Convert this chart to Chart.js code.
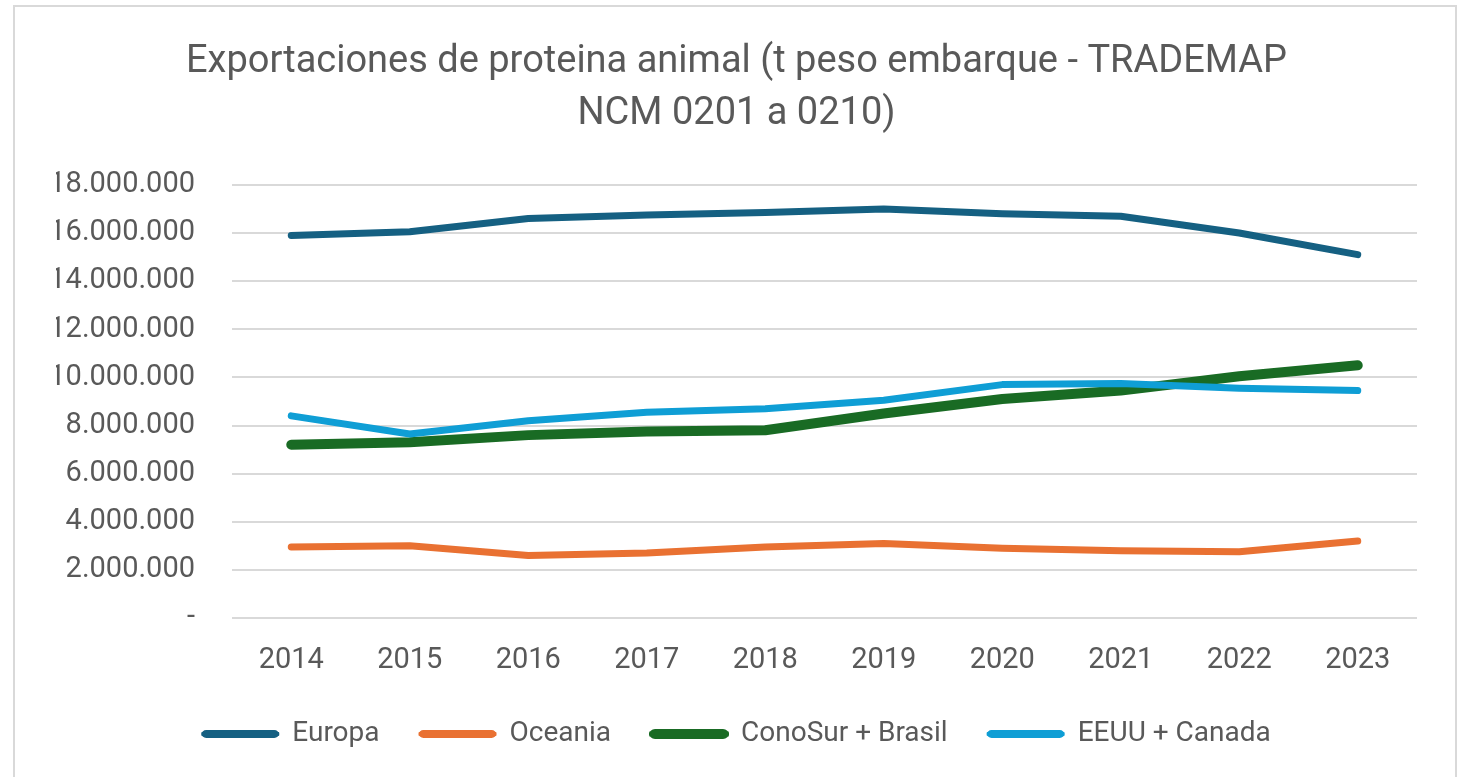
<!DOCTYPE html>
<html>
<head>
<meta charset="utf-8">
<script src="https://cdn.jsdelivr.net/npm/chart.js@4/dist/chart.umd.min.js"></script>
<style>
  html, body { margin: 0; padding: 0; background: #fff; }
  #wrap { position: relative; width: 1461px; height: 777px; overflow: hidden; }
  #marco { position: absolute; left: 13px; top: 5px; width: 1444px; height: 820px; border: 2px solid #d9d9d9; box-sizing: border-box; }
  #myChart { position: absolute; left: 0; top: 0; }
</style>
</head>
<body>
<div id="wrap">
  <div id="marco"></div>
  <canvas id="myChart" width="1461" height="777"></canvas>
</div>
<script>
const anios = ['2014', '2015', '2016', '2017', '2018', '2019', '2020', '2021', '2022', '2023'];

const europa   = [15900000, 16050000, 16600000, 16750000, 16850000, 17000000, 16800000, 16700000, 16000000, 15100000];
const oceania  = [2950000, 3000000, 2600000, 2700000, 2950000, 3100000, 2900000, 2800000, 2750000, 3200000];
const conoSur  = [7200000, 7300000, 7600000, 7750000, 7800000, 8500000, 9100000, 9450000, 10050000, 10500000];
const eeuuCan  = [8400000, 7650000, 8200000, 8550000, 8700000, 9050000, 9700000, 9750000, 9550000, 9450000];

const titulo = ['Exportaciones de proteina animal (t peso embarque - TRADEMAP', 'NCM 0201 a 0210)'];

const gris = '#595959';
const fuente = "Roboto, 'Liberation Sans', Arial, sans-serif";

function serie(label, data, color, ancho, orden) {
    return {
        label: label,
        data: data,
        borderColor: color,
        backgroundColor: color,
        borderWidth: ancho,
        pointRadius: 0,
        pointHoverRadius: 0,
        borderCapStyle: 'round',
        borderJoinStyle: 'round',
        tension: 0,
        fill: false,
        order: orden
    };
}

var ctx = document.getElementById('myChart').getContext('2d');
var chart = new Chart(ctx, {
    type: 'line',
    data: {
        labels: anios,
        datasets: [
            serie('Europa', europa, '#156082', 7, 4),
            serie('Oceania', oceania, '#E97132', 7, 3),
            serie('ConoSur + Brasil', conoSur, '#196B24', 10, 2),
            serie('EEUU + Canada', eeuuCan, '#0F9ED5', 7, 1)
        ]
    },
    options: {
        responsive: false,
        animation: false,
        layout: { padding: { left: 56, right: 44, top: 0, bottom: 19 } },
        plugins: {
            title: {
                display: true,
                text: titulo,
                color: gris,
                font: { family: fuente, size: 38, weight: 'normal', lineHeight: 1.38 },
                padding: { top: 36, bottom: 44 }
            },
            legend: {
                position: 'bottom',
                reverse: true,
                labels: {
                    color: gris,
                    font: { family: fuente, size: 28 },
                    boxWidth: 76,
                    boxHeight: 6,
                    padding: 40,
                    useBorderRadius: true,
                    borderRadius: 4,
                    generateLabels: function(chart) {
                        const items = Chart.defaults.plugins.legend.labels.generateLabels(chart);
                        items.forEach(it => {
                            const ds = chart.data.datasets[it.datasetIndex];
                            it.lineWidth = ds.borderWidth > 8 ? 4 : 2;
                        });
                        return items;
                    }
                }
            },
            tooltip: { enabled: false }
        },
        scales: {
            x: {
                offset: true,
                grid: { display: false },
                border: { display: false },
                ticks: {
                    color: gris,
                    font: { family: fuente, size: 29 },
                    padding: 17
                },
                afterFit: function(scale) { scale.height = 62; }
            },
            y: {
                min: 0,
                max: 18000000,
                grid: { color: '#d9d9d9', lineWidth: 2, drawTicks: false },
                border: { display: false },
                ticks: {
                    stepSize: 2000000,
                    color: gris,
                    font: { family: fuente, size: 29 },
                    padding: 37,
                    callback: function(v) {
                        return v === 0 ? '-' : v.toLocaleString('de-DE');
                    }
                },
                afterFit: function(scale) { scale.width = 176; }
            }
        }
    }
});
</script>
</body>
</html>
